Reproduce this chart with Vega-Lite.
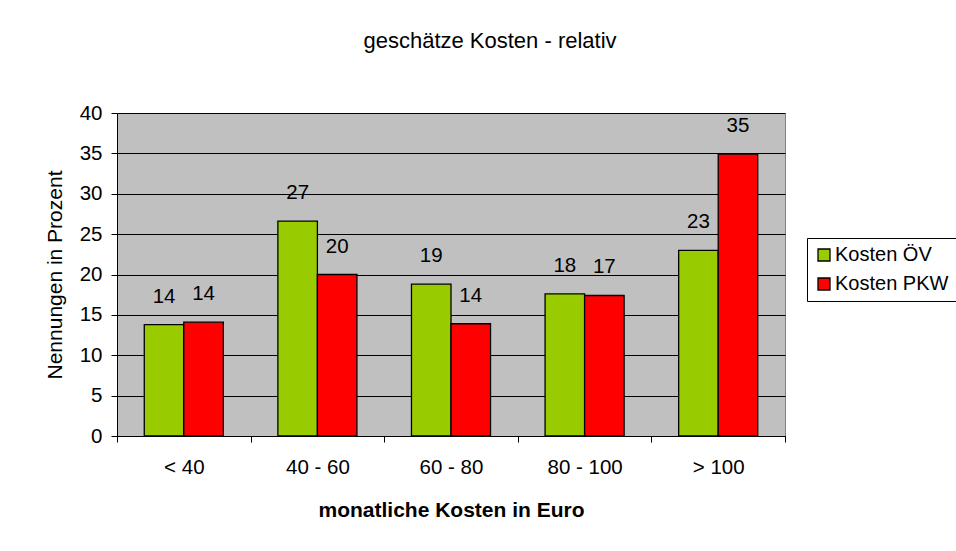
{
  "$schema": "https://vega.github.io/schema/vega-lite/v6.json",
  "width": 668,
  "height": 323,
  "autosize": {"type": "none"},
  "padding": {"left": 117, "top": 113, "right": 171, "bottom": 115},
  "background": "white",
  "title": {
    "text": "geschätze Kosten - relativ",
    "fontSize": 22,
    "fontWeight": "normal",
    "font": "Liberation Sans",
    "color": "black",
    "anchor": "middle",
    "dx": 39,
    "offset": 50
  },
  "data": {
    "values": [
      {"kat": "< 40", "serie": "Kosten ÖV", "wert": 13.8},
      {"kat": "< 40", "serie": "Kosten PKW", "wert": 14.1},
      {"kat": "40 - 60", "serie": "Kosten ÖV", "wert": 26.6},
      {"kat": "40 - 60", "serie": "Kosten PKW", "wert": 20.0},
      {"kat": "60 - 80", "serie": "Kosten ÖV", "wert": 18.8},
      {"kat": "60 - 80", "serie": "Kosten PKW", "wert": 13.9},
      {"kat": "80 - 100", "serie": "Kosten ÖV", "wert": 17.6},
      {"kat": "80 - 100", "serie": "Kosten PKW", "wert": 17.4},
      {"kat": "> 100", "serie": "Kosten ÖV", "wert": 23.0},
      {"kat": "> 100", "serie": "Kosten PKW", "wert": 34.9}
    ]
  },
  "encoding": {
    "x": {
      "field": "kat",
      "type": "nominal",
      "sort": ["< 40", "40 - 60", "60 - 80", "80 - 100", "> 100"],
      "scale": {"paddingInner": 0, "paddingOuter": 0},
      "axis": {
        "title": "monatliche Kosten in Euro",
        "titleFontWeight": "bold",
        "titleFontSize": 21,
        "titlePadding": 22,
        "labelAngle": 0,
        "labelFontSize": 20.5,
        "labelPadding": 15,
        "tickBand": "extent",
        "tickSize": 6,
        "grid": false
      }
    },
    "xOffset": {
      "field": "serie",
      "type": "nominal",
      "sort": ["Kosten ÖV", "Kosten PKW"],
      "scale": {"paddingOuter": 0.69, "paddingInner": 0}
    },
    "y": {
      "field": "wert",
      "type": "quantitative",
      "scale": {"domain": [0, 40], "nice": false},
      "axis": {
        "title": "Nennungen in Prozent",
        "titleFontWeight": "normal",
        "titleFontSize": 21,
        "titlePadding": 14,
        "values": [0, 5, 10, 15, 20, 25, 30, 35, 40],
        "labelFontSize": 20.5,
        "labelPadding": 9,
        "tickSize": 6,
        "grid": true
      }
    }
  },
  "layer": [
    {
      "mark": {"type": "bar", "stroke": "black", "strokeWidth": 1.3},
      "encoding": {
        "color": {
          "field": "serie",
          "type": "nominal",
          "sort": ["Kosten ÖV", "Kosten PKW"],
          "scale": {"domain": ["Kosten ÖV", "Kosten PKW"], "range": ["#99CC00", "#FF0000"]},
          "legend": {
            "title": null,
            "orient": "none",
            "legendX": 690,
            "legendY": 125
          }
        }
      }
    },
    {
      "mark": {"type": "text", "baseline": "middle", "dy": -28, "fontSize": 20.5, "color": "black"},
      "encoding": {
        "text": {"field": "wert", "type": "quantitative", "format": ".0f"}
      }
    }
  ],
  "config": {
    "font": "Liberation Sans",
    "view": {"fill": "#C0C0C0", "stroke": "#808080", "strokeWidth": 1},
    "axis": {
      "domainColor": "black",
      "tickColor": "black",
      "labelColor": "black",
      "titleColor": "black",
      "gridColor": "black",
      "gridOpacity": 1,
      "gridWidth": 1,
      "domainWidth": 1,
      "labelFont": "Liberation Sans",
      "titleFont": "Liberation Sans"
    },
    "legend": {
      "strokeColor": "black",
      "fillColor": "white",
      "padding": 7,
      "symbolType": "square",
      "symbolSize": 144,
      "symbolStrokeColor": "black",
      "symbolStrokeWidth": 1.3,
      "labelFontSize": 20,
      "labelFont": "Liberation Sans",
      "labelColor": "black",
      "labelOffset": 1,
      "rowPadding": 9
    }
  }
}
